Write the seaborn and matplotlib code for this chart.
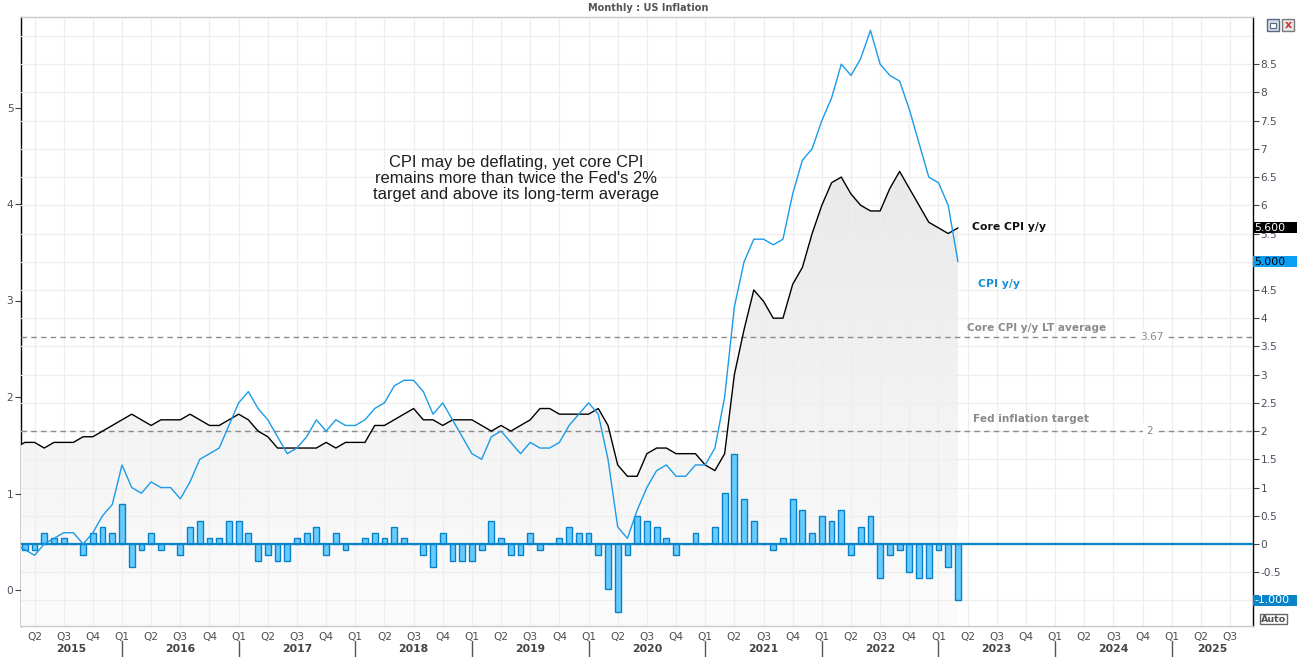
import numpy as np
import pandas as pd
import matplotlib
matplotlib.use("Agg")
import matplotlib.pyplot as plt
import seaborn as sns
from matplotlib.patches import Rectangle
from matplotlib.lines import Line2D
from matplotlib.colors import LinearSegmentedColormap
from matplotlib.transforms import blended_transform_factory

# ---------------- data (monthly, Feb 2015 .. Mar 2023) ----------------
start_month = "2015-02"
end_month = "2023-03"

cpi_yoy = [
    0.0, -0.1, -0.2, 0.0, 0.1, 0.2, 0.2, 0.0, 0.2, 0.5, 0.7,
    1.4, 1.0, 0.9, 1.1, 1.0, 1.0, 0.8, 1.1, 1.5, 1.6, 1.7, 2.1,
    2.5, 2.7, 2.4, 2.2, 1.9, 1.6, 1.7, 1.9, 2.2, 2.0, 2.2, 2.1,
    2.1, 2.2, 2.4, 2.5, 2.8, 2.9, 2.9, 2.7, 2.3, 2.5, 2.2, 1.9,
    1.6, 1.5, 1.9, 2.0, 1.8, 1.6, 1.8, 1.7, 1.7, 1.8, 2.1, 2.3,
    2.5, 2.3, 1.5, 0.3, 0.1, 0.6, 1.0, 1.3, 1.4, 1.2, 1.2, 1.4,
    1.4, 1.7, 2.6, 4.2, 5.0, 5.4, 5.4, 5.3, 5.4, 6.2, 6.8, 7.0,
    7.5, 7.9, 8.5, 8.3, 8.6, 9.1, 8.5, 8.3, 8.2, 7.7, 7.1, 6.5,
    6.4, 6.0, 5.0,
]
core_yoy = [
    1.7, 1.8, 1.8, 1.7, 1.8, 1.8, 1.8, 1.9, 1.9, 2.0, 2.1,
    2.2, 2.3, 2.2, 2.1, 2.2, 2.2, 2.2, 2.3, 2.2, 2.1, 2.1, 2.2,
    2.3, 2.2, 2.0, 1.9, 1.7, 1.7, 1.7, 1.7, 1.7, 1.8, 1.7, 1.8,
    1.8, 1.8, 2.1, 2.1, 2.2, 2.3, 2.4, 2.2, 2.2, 2.1, 2.2, 2.2,
    2.2, 2.1, 2.0, 2.1, 2.0, 2.1, 2.2, 2.4, 2.4, 2.3, 2.3, 2.3,
    2.3, 2.4, 2.1, 1.4, 1.2, 1.2, 1.6, 1.7, 1.7, 1.6, 1.6, 1.6,
    1.4, 1.3, 1.6, 3.0, 3.8, 4.5, 4.3, 4.0, 4.0, 4.6, 4.9, 5.5,
    6.0, 6.4, 6.5, 6.2, 6.0, 5.9, 5.9, 6.3, 6.6, 6.3, 6.0, 5.7,
    5.6, 5.5, 5.6,
]
cpi_yoy_change = [
    0.1, -0.1, -0.1, 0.2, 0.1, 0.1, 0.0, -0.2, 0.2, 0.3, 0.2,
    0.7, -0.4, -0.1, 0.2, -0.1, 0.0, -0.2, 0.3, 0.4, 0.1, 0.1, 0.4,
    0.4, 0.2, -0.3, -0.2, -0.3, -0.3, 0.1, 0.2, 0.3, -0.2, 0.2, -0.1,
    0.0, 0.1, 0.2, 0.1, 0.3, 0.1, 0.0, -0.2, -0.4, 0.2, -0.3, -0.3,
    -0.3, -0.1, 0.4, 0.1, -0.2, -0.2, 0.2, -0.1, 0.0, 0.1, 0.3, 0.2,
    0.2, -0.2, -0.8, -1.2, -0.2, 0.5, 0.4, 0.3, 0.1, -0.2, 0.0, 0.2,
    0.0, 0.3, 0.9, 1.6, 0.8, 0.4, 0.0, -0.1, 0.1, 0.8, 0.6, 0.2,
    0.5, 0.4, 0.6, -0.2, 0.3, 0.5, -0.6, -0.2, -0.1, -0.5, -0.6, -0.6,
    -0.1, -0.4, -1.0,
]
lt_average = 3.67
fed_target = 2.0
right_ticks = [-1.0, -0.5, 0.0, 0.5, 1.0, 1.5, 2.0, 2.5, 3.0, 3.5, 4.0,
               4.5, 5.0, 5.5, 6.0, 6.5, 7.0, 7.5, 8.0, 8.5]
hidden_right_labels = [-1.0, 5.0]   # covered by the last-value boxes
left_ticks = [0, 1, 2, 3, 4, 5]
quarter_labels = ["Q1", "Q2", "Q3", "Q4"]
years = list(range(2015, 2026))
title = "Monthly : US Inflation"
note = ("CPI may be deflating, yet core CPI\n"
        "remains more than twice the Fed's 2%\n"
        "target and above its long-term average")

# ---------------- style ----------------
sns.set_style("white")
plt.rcParams["font.family"] = ["DejaVu Sans"]
plt.rcParams["axes.unicode_minus"] = False

W, H = 1297, 657
fig = plt.figure(figsize=(W / 100, H / 100), dpi=100)
fig.patch.set_facecolor("white")
L, R, T, B = 21, 1253, 17, 626
ax = fig.add_axes([L / W, 1 - B / H, (R - L) / W, (B - T) / H])
ax.set_facecolor("white")

# axis scale (right axis)
px_unit = 56.45
zero_px = 544
ytop = (zero_px - T) / px_unit
ybot = (zero_px - B) / px_unit
px_month = 9.72
jan16_px = 122
xl = 12 - (jan16_px - L) / px_month
xr = 12 + (R - jan16_px) / px_month
left_zero_px = 590
left_px_unit = 96.5

dates = pd.date_range(start_month, end_month, freq="MS")
xm = (dates.year - 2015) * 12 + dates.month - 1
df = pd.DataFrame({"x": np.asarray(xm, dtype=float), "cpi": cpi_yoy,
                   "core": core_yoy, "chg": cpi_yoy_change})

# grid
grid_c = "#eeeeee"
for q in range(3, 128, 3):
    ax.axvline(q, color=grid_c, lw=0.9, zorder=1)
for v in np.arange(-1.0, 9.01, 0.5):
    ax.axhline(v, color=grid_c, lw=0.9, zorder=1)

# gradient shaded area under core CPI
poly = ax.fill_between(df["x"], df["core"], ybot, facecolor="none",
                       edgecolor="none")
cmap = LinearSegmentedColormap.from_list("g", ["#fcfcfc", "#e9e9e9"])
grad = np.linspace(0, 1, 256).reshape(-1, 1)
im = ax.imshow(grad, extent=[df["x"].min(), df["x"].max(), ybot, max(core_yoy)],
               origin="lower", aspect="auto", cmap=cmap, zorder=0.6)
im.set_clip_path(poly.get_paths()[0], transform=ax.transData)

# reference lines
dash_c = "#8c8c8c"
ax.axhline(lt_average, color=dash_c, lw=1.0, ls=(0, (4, 3)), zorder=1.5)
ax.axhline(fed_target, color=dash_c, lw=1.0, ls=(0, (4, 3)), zorder=1.5)

# bars
ax.bar(df["x"], df["chg"], width=0.6, color="#66ccff", edgecolor="#0a80c8",
       linewidth=1.0, zorder=2)
ax.axhline(0, color="#0a84c8", lw=1.6, zorder=3)

# lines
sns.lineplot(data=df, x="x", y="core", color="black", lw=1.0, ax=ax, zorder=4)
sns.lineplot(data=df, x="x", y="cpi", color="#1a9be8", lw=1.0, ax=ax, zorder=4)

ax.set_xlim(xl, xr)
ax.set_ylim(ybot, ytop)
ax.set_xlabel("")
ax.set_ylabel("")

# right y axis
ax.yaxis.tick_right()
ax.set_yticks(right_ticks)
ax.set_yticklabels([("" if v in hidden_right_labels else "%g" % v)
                    for v in right_ticks])
ax.tick_params(axis="y", which="both", direction="out", length=4, width=0.8,
               color="#444", labelsize=7.6, labelcolor="#4d4d5c", pad=1.5)

# left y axis (secondary scale)
off = left_zero_px - zero_px
secax = ax.secondary_yaxis(
    "left",
    functions=(lambda v: (off + px_unit * v) / left_px_unit,
               lambda l: (left_px_unit * l - off) / px_unit))
secax.set_yticks(left_ticks)
secax.set_yticklabels([str(t) for t in left_ticks])
secax.tick_params(axis="y", direction="out", length=4, width=0.8, color="#444",
                  labelsize=7.6, labelcolor="#4d4d5c", pad=1.5)
secax.spines["left"].set_color("black")
secax.spines["left"].set_linewidth(1.0)

# x ticks (quarters)
qt = list(range(3, 127, 3))
ax.set_xticks(qt)
ax.set_xticklabels([quarter_labels[(q // 3) % 4] for q in qt])
ax.tick_params(axis="x", direction="out", length=3, width=0.8, color="#555",
               labelsize=7.6, labelcolor="#4d4d4d", pad=1.5)

for s in ["top", "bottom"]:
    ax.spines[s].set_color("#c8c8c8")
    ax.spines[s].set_linewidth(1.0)
ax.spines["right"].set_color("black")
ax.spines["right"].set_linewidth(1.0)
ax.spines["left"].set_visible(False)

# year labels and separators
bt = blended_transform_factory(ax.transData, fig.transFigure)
for y in years:
    a = max((y - 2015) * 12, xl)
    b = min((y - 2014) * 12, xr)
    ax.text((a + b) / 2, 1 - 649 / H, str(y), transform=bt, ha="center",
            va="center", fontsize=7.8, fontweight="bold", color="#444",
            clip_on=False)
for y in years[1:]:
    xs = (y - 2015) * 12
    if xs < xr:
        ax.add_line(Line2D([xs, xs], [1 - 641 / H, 1 - 657 / H], transform=bt,
                           color="#555", lw=1.0, clip_on=False))

# text labels
def fx(px):
    return px / W

def fy(py):
    return 1 - py / H

fig.text(fx(648), fy(8), title, ha="center", va="center", fontsize=7,
         fontweight="bold", color="#555")
fig.text(fx(516), fy(178.5), note, ha="center", va="center", fontsize=11.9,
         family=["Liberation Sans", "DejaVu Sans"], color="#1e1e1e",
         linespacing=1.12)
fig.text(fx(972), fy(227), "Core CPI y/y", ha="left", va="center",
         fontsize=7.8, fontweight="bold", color="#111")
fig.text(fx(978), fy(284), "CPI y/y", ha="left", va="center",
         fontsize=7.8, fontweight="bold", color="#1a8fd6")
fig.text(fx(967), fy(328), "Core CPI y/y LT average", ha="left", va="center",
         fontsize=7.6, fontweight="bold", color="#8a8a8a")
fig.text(fx(973), fy(419), "Fed inflation target", ha="left", va="center",
         fontsize=7.6, fontweight="bold", color="#8a8a8a")

ax.text(xl + (1152 - L) / px_month, lt_average, "3.67", ha="center",
        va="center", fontsize=7.6, color="#8a8a8a", zorder=5,
        bbox=dict(boxstyle="square,pad=0.25", fc="white", ec="none"))
ax.text(xl + (1149.5 - L) / px_month, fed_target, "2", ha="center",
        va="center", fontsize=7.6, color="#8a8a8a", zorder=5,
        bbox=dict(boxstyle="square,pad=0.3", fc="white", ec="none"))

# last-value boxes on the right axis
def value_box(v, txt, fc, tc):
    py = zero_px - px_unit * v
    fig.patches.append(Rectangle((fx(1253), fy(py + 5.5)), 44 / W, 11 / H,
                                 transform=fig.transFigure, facecolor=fc,
                                 edgecolor="none", zorder=10))
    fig.text(fx(1254), fy(py), txt, ha="left", va="center", fontsize=7.8,
             color=tc, zorder=11)

value_box(core_yoy[-1], "%.3f" % core_yoy[-1], "black", "white")
value_box(cpi_yoy[-1], "%.3f" % cpi_yoy[-1], "#0aa0f5", "black")
value_box(cpi_yoy_change[-1], "%.3f" % cpi_yoy_change[-1], "#0a84c8", "white")

# "Auto" box
fig.patches.append(Rectangle((fx(1260), fy(624)), 27 / W, 10 / H,
                             transform=fig.transFigure, facecolor="white",
                             edgecolor="#666", lw=1.0, zorder=10))
fig.text(fx(1273.5), fy(619), "Auto", ha="center", va="center", fontsize=6.8,
         fontweight="bold", color="#555", zorder=11)

# window icons
fig.patches.append(Rectangle((fx(1267), fy(31)), 12 / W, 12 / H,
                             transform=fig.transFigure, facecolor="#d5dce8",
                             edgecolor="#5a6a80", lw=1.0, zorder=10))
fig.patches.append(Rectangle((fx(1270), fy(28)), 6 / W, 5 / H,
                             transform=fig.transFigure, facecolor="white",
                             edgecolor="#5a6a80", lw=0.8, zorder=11))
fig.patches.append(Rectangle((fx(1282), fy(31)), 12 / W, 12 / H,
                             transform=fig.transFigure, facecolor="#e6e6e6",
                             edgecolor="#7a7a7a", lw=1.0, zorder=10))
fig.text(fx(1288), fy(25), "x", ha="center", va="center", fontsize=8,
         fontweight="bold", color="#d03030", zorder=11)

fig.savefig("out.png", dpi=100)
